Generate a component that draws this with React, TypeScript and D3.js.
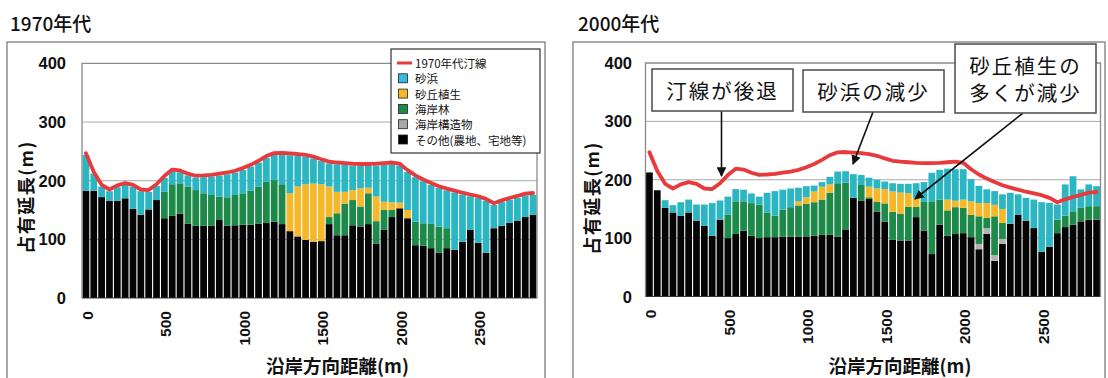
import React from "react";
import * as d3 from "d3";

// Alongshore distance of each 50 m cell (m)
const DISTANCES = [
  0, 50, 100, 150, 200, 250, 300, 350, 400, 450,
  500, 550, 600, 650, 700, 750, 800, 850, 900, 950,
  1000, 1050, 1100, 1150, 1200, 1250, 1300, 1350, 1400, 1450,
  1500, 1550, 1600, 1650, 1700, 1750, 1800, 1850, 1900, 1950,
  2000, 2050, 2100, 2150, 2200, 2250, 2300, 2350, 2400, 2450,
  2500, 2550, 2600, 2650, 2700, 2750, 2800, 2850,
];
const X_TICKS = [0, 500, 1000, 1500, 2000, 2500];
const Y_TICKS = [0, 100, 200, 300, 400];

// 1970s shoreline position (m)
const SHORELINE_1970 = [
  247, 215, 193, 185, 192, 196, 193, 185, 184, 194,
  208, 219, 217.5, 212, 208.5, 209, 210, 212, 214, 217,
  221.5, 227, 234, 242, 247, 247.5, 246.5, 245.5, 244, 241,
  236.5, 232.5, 231, 230, 229, 228.5, 228.5, 229, 230, 231,
  229, 218, 209, 202, 196, 190.5, 186.5, 183, 179.5, 176.5,
  173.5, 169, 161.5, 166.5, 170.5, 174, 178, 179,
];

// 1970s occupied length by land cover (m)
const OTHER_1970 = [
  183, 183, 172, 166, 166, 170, 152, 142, 151, 167,
  136, 140, 144, 127, 123, 123, 123, 133, 123, 124,
  125, 125, 127, 128, 130, 126, 114, 105, 99, 96,
  97, 126, 107, 107, 124, 122, 126, 93, 116, 138,
  153, 136, 90, 89, 85, 77, 85, 82, 96, 116,
  94, 77, 119, 123, 128, 132, 138, 142,
];
const STRUCTURE_1970 = [
  0, 0, 0, 0, 0, 0, 0, 0, 0, 0,
  0, 0, 0, 0, 0, 0, 0, 0, 0, 0,
  0, 0, 0, 0, 0, 0, 0, 0, 0, 0,
  0, 0, 0, 0, 0, 0, 0, 0, 0, 0,
  0, 0, 0, 0, 0, 0, 0, 0, 0, 0,
  0, 0, 0, 0, 0, 0, 0, 0,
];
const FOREST_1970 = [
  0, 0, 0, 0, 0, 0, 0, 0, 0, 0,
  45, 54, 51.5, 63, 61, 55.5, 52.6, 39.7, 48.7, 51.6,
  53.5, 58, 63, 70, 71, 68, 0, 0, 0, 0,
  0, 12, 37.5, 54, 43, 34, 52.5, 38, 34, 12,
  0, 0, 40, 38.4, 41.3, 44.8, 34, 0, 0, 0,
  0, 0, 0, 0, 0, 0, 0, 0,
];
const DUNE_1970 = [
  0, 0, 0, 0, 0, 0, 0, 0, 0, 0,
  0, 0, 0, 0, 0, 0, 0, 0, 0, 0,
  0, 0, 0, 0, 0, 0, 64.5, 85, 95, 99,
  97, 52, 36.5, 20, 17, 31, 9.5, 42, 14, 13,
  9.6, 14, 0, 0, 0, 0, 0, 0, 0, 0,
  0, 0, 0, 0, 0, 0, 0, 0,
];
const BEACH_1970 = [
  61, 29, 18, 16, 23, 23, 38, 40, 30, 24,
  24, 22, 19, 19, 21.5, 27.5, 31.4, 36.3, 39.3, 38.4,
  40, 41, 41, 41, 43, 50.5, 65, 52.5, 47, 43,
  39.5, 39.5, 47, 46, 42, 38.5, 37.5, 53, 63, 65,
  63.4, 65, 76, 71.6, 66.7, 65.7, 64.5, 98, 80.5, 57.5,
  76.5, 89, 39.5, 40.5, 39.5, 39, 37, 34,
];

// 2000s occupied length by land cover (m)
const OTHER_2000 = [
  212.5, 182, 152, 144, 138.5, 144, 130, 121, 104, 131.6,
  100, 107, 112.6, 104, 100, 101.6, 101.6, 102.7, 102.7, 102.7,
  103, 104, 105.6, 105.6, 102.7, 115, 169, 164.5, 167, 145,
  128, 97, 96, 96, 136, 113, 72.7, 123, 104, 107,
  108.5, 101.6, 81, 107.4, 61, 90, 124.7, 140.3, 129.9, 117.2,
  76.8, 85.4, 108.5, 118.9, 122.9, 128.7, 131.6, 131.6,
];
const STRUCTURE_2000 = [
  0, 0, 0, 0, 0, 0, 0, 0, 0, 0,
  0, 0, 0, 0, 0, 0, 0, 0, 0, 0,
  0, 0, 0, 0, 0, 0, 0, 0, 0, 0,
  0, 0, 0, 0, 0, 0, 0, 0, 0, 0,
  0, 0, 9, 9.6, 10, 8.7, 0, 0, 0, 0,
  0, 0, 0, 0, 0, 0, 0, 0,
];
const FOREST_2000 = [
  0, 0, 0, 0, 0, 0, 0, 0, 0, 0,
  40, 56, 50.4, 56, 57.5, 42.4, 36.9, 46.3, 50.3, 53.3,
  55.6, 57.5, 60.4, 72.1, 91.3, 80, 0, 26.5, 3, 17,
  31.5, 48, 46, 57.5, 17.5, 49, 90.3, 43, 43.5, 46,
  43.5, 38.4, 47.4, 17.5, 66.4, 27.3, 0, 0, 0, 0,
  0, 0, 23.1, 19.6, 23.1, 23.1, 23.1, 23.1,
];
const DUNE_2000 = [
  0, 0, 0, 0, 0, 0, 0, 0, 0, 0,
  0, 0, 0, 0, 0, 0, 0, 0, 0, 7,
  11.4, 18.5, 22, 14.3, 0, 0, 0, 0, 18, 23,
  24.5, 35, 36, 23.5, 15.5, 0, 0, 0, 18.5, 11,
  14, 23, 22.6, 25.5, 19.6, 24, 0, 0, 0, 0,
  0, 0, 0, 0, 0, 0, 0, 0,
];
const BEACH_2000 = [
  0, 0, 13, 12.4, 23, 22, 27.5, 36.5, 56, 32.8,
  31, 21, 20, 16.5, 13.5, 33.6, 42, 34, 32, 23.4,
  19, 10, 8, 13, 20, 19.6, 40.6, 17, 15.5, 15,
  13, 14, 15, 16, 25, 34, 49, 51, 53, 54,
  52, 38, 29.4, 23.5, 23.6, 25, 53, 34.7, 39.1, 48.8,
  84.8, 75.1, 26, 53.5, 60, 31.7, 37.3, 34.3,
];

const COLORS = {
  other: "#050505",
  structure: "#b2b2b2",
  forest: "#1d8a4a",
  dune: "#f5b82a",
  beach: "#2bb6c3",
  shoreline: "#e8393c",
};

const LEGEND_ITEMS = [
  { label: "1970年代汀線", color: COLORS.shoreline, line: true },
  { label: "砂浜", color: "#39b9e6", line: false },
  { label: "砂丘植生", color: COLORS.dune, line: false },
  { label: "海岸林", color: COLORS.forest, line: false },
  { label: "海岸構造物", color: "#a8a8a8", line: false },
  { label: "その他(農地、宅地等)", color: "#000000", line: false },
];

const JP = '"Noto Sans CJK JP", "Noto Sans", sans-serif';
const NUM = '"Liberation Sans", Arial, sans-serif';

type Row = {
  d: number;
  other: number;
  structure: number;
  forest: number;
  dune: number;
  beach: number;
};

const KEYS = ["other", "structure", "forest", "dune", "beach"] as const;

function buildRows(o: number[], s: number[], f: number[], du: number[], b: number[]): Row[] {
  return DISTANCES.map((d, i) => ({
    d,
    other: o[i],
    structure: s[i],
    forest: f[i],
    dune: du[i],
    beach: b[i],
  }));
}

type Layout = {
  frameX: number;
  frameW: number;
  titleX: number;
  title: string;
  plotL: number;
  plotR: number;
  plotT: number;
  plotB: number;
  yLabelX: number;
  yTitleX: number;
  yTitleY: number;
  xTitleX: number;
};

function Panel({ layout, rows, children }: { layout: Layout; rows: Row[]; children?: React.ReactNode }) {
  const x = d3
    .scaleBand<number>()
    .domain(DISTANCES)
    .range([layout.plotL, layout.plotR])
    .paddingInner(0.14)
    .paddingOuter(0.07);
  const y = d3.scaleLinear().domain([0, 400]).range([layout.plotB, layout.plotT]);
  const series = d3.stack<Row>().keys(KEYS as unknown as string[])(rows);
  const cx = (d: number) => (x(d) as number) + x.bandwidth() / 2;
  const line = d3
    .line<number>()
    .x((_, i) => cx(DISTANCES[i]))
    .y((v) => y(v));

  return (
    <g>
      <rect x={layout.frameX} y={42} width={layout.frameW} height={360} fill="#fff" stroke="#8d8d8d" strokeWidth={1.5} />
      <text x={layout.titleX} y={31} fontFamily={JP} fontWeight={500} fontSize={19} fill="#111">
        {layout.title}
      </text>

      {Y_TICKS.filter((t) => t > 0 && t < 400).map((t) => (
        <line key={t} x1={layout.plotL} x2={layout.plotR} y1={y(t)} y2={y(t)} stroke="#a9a9a9" strokeWidth={1} />
      ))}

      {series.map((s) => (
        <g key={s.key} fill={(COLORS as any)[s.key]}>
          {s.map((seg, i) =>
            seg[1] - seg[0] > 0 ? (
              <rect
                key={i}
                x={x(DISTANCES[i])}
                width={x.bandwidth()}
                y={y(seg[1])}
                height={y(seg[0]) - y(seg[1])}
              />
            ) : null
          )}
        </g>
      ))}

      <path
        d={`M${layout.plotL},${layout.plotB}V${layout.plotT}H${layout.plotR}V${layout.plotB}`}
        fill="none"
        stroke="#8a8a8a"
        strokeWidth={1.3}
      />
      <line x1={layout.plotL} x2={layout.plotR} y1={layout.plotB} y2={layout.plotB} stroke="#333" strokeWidth={1} />

      <path
        d={line(SHORELINE_1970) || ""}
        fill="none"
        stroke={COLORS.shoreline}
        strokeWidth={3.8}
        strokeLinejoin="round"
        strokeLinecap="round"
      />

      {Y_TICKS.map((t) => (
        <text
          key={t}
          x={layout.yLabelX}
          y={y(t)}
          textAnchor="end"
          dominantBaseline="central"
          fontFamily={NUM}
          fontWeight="bold"
          fontSize={16.5}
          fill="#111"
        >
          {t}
        </text>
      ))}

      {X_TICKS.map((t) => (
        <text
          key={t}
          transform={`translate(${cx(t) + 1.5},${layout.plotB + 13}) rotate(-90)`}
          textAnchor="end"
          dominantBaseline="central"
          fontFamily={NUM}
          fontWeight="bold"
          fontSize={15.5}
          fill="#111"
        >
          {t}
        </text>
      ))}

      <text
        x={layout.xTitleX}
        y={373}
        textAnchor="middle"
        fontFamily={JP}
        fontWeight={700}
        fontSize={18.5}
        fill="#111"
      >
        沿岸方向距離(m)
      </text>
      <text
        transform={`translate(${layout.yTitleX},${layout.yTitleY}) rotate(-90)`}
        textAnchor="middle"
        dominantBaseline="central"
        fontFamily={JP}
        fontWeight={700}
        fontSize={18}
        letterSpacing={1.5}
        fill="#111"
      >
        占有延長(m)
      </text>
      {children}
    </g>
  );
}

function Legend({ x, y }: { x: number; y: number }) {
  const rowH = 15.3;
  return (
    <g>
      <rect x={x} y={y} width={149} height={104} fill="#fff" stroke="#333" strokeWidth={1.2} />
      {LEGEND_ITEMS.map((it, i) => {
        const cy = y + 14 + i * rowH;
        return (
          <g key={it.label}>
            {it.line ? (
              <line x1={x + 6} x2={x + 21} y1={cy} y2={cy} stroke={it.color} strokeWidth={3} />
            ) : (
              <rect x={x + 7.5} y={cy - 4.5} width={9} height={9} fill={it.color} stroke="#222" strokeWidth={0.8} />
            )}
            <text
              x={x + 24}
              y={cy}
              dominantBaseline="central"
              fontFamily={JP}
              fontSize={11.5}
              fill="#111"
            >
              {it.label}
            </text>
          </g>
        );
      })}
    </g>
  );
}

function Callout({
  box,
  lines,
  arrow,
}: {
  box: [number, number, number, number];
  lines: string[];
  arrow: [number, number, number, number];
}) {
  const [bx, by, bw, bh] = box;
  const [x1, y1, x2, y2] = arrow;
  const lh = 27.5;
  const startY = by + bh / 2 - ((lines.length - 1) * lh) / 2;
  return (
    <g>
      <line x1={x1} y1={y1} x2={x2} y2={y2} stroke="#111" strokeWidth={1.6} markerEnd="url(#arrowHead)" />
      <rect x={bx} y={by} width={bw} height={bh} fill="#fff" stroke="#555" strokeWidth={1.6} />
      {lines.map((l, i) => (
        <text
          key={l}
          x={bx + bw / 2}
          y={startY + i * lh}
          textAnchor="middle"
          dominantBaseline="central"
          fontFamily={JP}
          fontSize={20.5}
          letterSpacing={2}
          fill="#111"
        >
          {l}
        </text>
      ))}
    </g>
  );
}

const LEFT: Layout = {
  frameX: 7,
  frameW: 538,
  titleX: 10,
  title: "1970年代",
  plotL: 82,
  plotR: 537,
  plotT: 63.4,
  plotB: 298,
  yLabelX: 66,
  yTitleX: 25,
  yTitleY: 197,
  xTitleX: 337.5,
};

const RIGHT: Layout = {
  frameX: 573,
  frameW: 532,
  titleX: 578,
  title: "2000年代",
  plotL: 645.5,
  plotR: 1100.5,
  plotT: 63,
  plotB: 296.5,
  yLabelX: 632,
  yTitleX: 591,
  yTitleY: 198,
  xTitleX: 900,
};

export default function App() {
  const rows1970 = buildRows(OTHER_1970, STRUCTURE_1970, FOREST_1970, DUNE_1970, BEACH_1970);
  const rows2000 = buildRows(OTHER_2000, STRUCTURE_2000, FOREST_2000, DUNE_2000, BEACH_2000);
  return (
    <svg
      width={1108}
      height={378}
      style={{ position: "absolute", left: 0, top: 0, background: "#fff" }}
    >
      <defs>
        <marker id="arrowHead" viewBox="0 0 10 10" refX={9} refY={5} markerWidth={6} markerHeight={6} orient="auto">
          <path d="M0,0 L10,5 L0,10 z" fill="#111" />
        </marker>
      </defs>
      <rect width={1108} height={378} fill="#fff" />
      <Panel layout={LEFT} rows={rows1970}>
        <Legend x={391} y={49} />
      </Panel>
      <Panel layout={RIGHT} rows={rows2000}>
        <Callout box={[652, 69, 141, 42]} lines={["汀線が後退"]} arrow={[721.5, 111, 721.5, 176]} />
        <Callout box={[803, 70, 141, 42]} lines={["砂浜の減少"]} arrow={[873, 112, 853, 164]} />
        <Callout box={[955, 44, 141, 69]} lines={["砂丘植生の", "多くが減少"]} arrow={[1023, 113, 915, 199]} />
      </Panel>
    </svg>
  );
}
